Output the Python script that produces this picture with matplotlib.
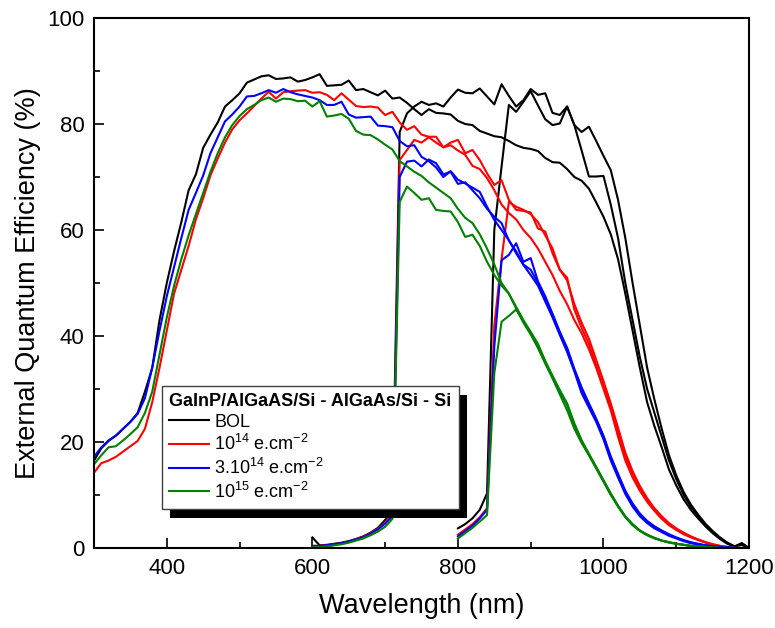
from __future__ import annotations

import matplotlib

matplotlib.use("Agg")
import matplotlib.pyplot as plt
from matplotlib import font_manager
from matplotlib.patches import Rectangle


OUT = "out.png"

# wavelength grids (nm): full-spectrum Si cell, Si under AlGaAs, Si under GaInP/AlGaAs
WL_FULL = [
    300, 310, 320, 330, 340, 350, 360, 370, 380, 390,
    400, 410, 420, 430, 440, 450, 460, 470, 480, 490,
    500, 510, 520, 530, 540, 550, 560, 570, 580, 590,
    600, 610, 620, 630, 640, 650, 660, 670, 680, 690,
    700, 710, 720, 730, 740, 750, 760, 770, 780, 790,
    800, 810, 820, 830, 840, 850, 860, 870, 880, 890,
    900, 910, 920, 930, 940, 950, 960, 970, 980, 990,
    1000, 1010, 1020, 1030, 1040, 1050, 1060, 1070, 1080, 1090,
    1100, 1110, 1120, 1130, 1140, 1150, 1160, 1170, 1180, 1190,
    1200,
]
WL_MID = [
    600, 610, 620, 630, 640, 650, 660, 670, 680, 690,
    700, 710, 720, 730, 740, 750, 760, 770, 780, 790,
    800, 810, 820, 830, 840, 850, 860, 870, 880, 890,
    900, 910, 920, 930, 940, 950, 960, 970, 980, 990,
    1000, 1010, 1020, 1030, 1040, 1050, 1060, 1070, 1080, 1090,
    1100, 1110, 1120, 1130, 1140, 1150, 1160, 1170, 1180, 1190,
    1200,
]
WL_LOW = [
    800, 810, 820, 830, 840, 850, 860, 870, 880, 890,
    900, 910, 920, 930, 940, 950, 960, 970, 980, 990,
    1000, 1010, 1020, 1030, 1040, 1050, 1060, 1070, 1080, 1090,
    1100, 1110, 1120, 1130, 1140, 1150, 1160, 1170, 1180, 1190,
    1200,
]

# EQE (%) -- BOL
BOL_FULL = [
    16.5, 18.8, 20.2, 21.2, 22.5, 23.8, 25.5, 29.5, 34.0, 43.0,
    50.0, 56.0, 61.5, 67.5, 70.5, 75.5, 78.0, 80.3, 83.3, 84.5,
    85.8, 87.8, 88.4, 89.0, 89.2, 88.5, 88.6, 88.8, 88.0, 88.3,
    88.8, 89.4, 87.2, 87.3, 87.4, 88.2, 86.4, 86.6, 86.0, 85.4,
    86.3, 84.8, 85.0, 84.0, 82.8, 81.7, 82.8, 82.1, 82.0, 81.8,
    80.6, 80.0, 79.8, 78.7, 78.2, 77.7, 77.5, 76.8, 76.0, 75.5,
    75.3, 74.9, 73.6, 72.8, 72.7, 71.5, 70.0, 69.3, 67.8, 65.2,
    62.5, 59.2, 54.5, 48.0, 41.0, 34.0, 27.5, 23.0, 19.0, 14.8,
    11.8, 9.2, 7.2, 5.6, 4.1, 2.8, 1.7, 0.8, 0.2, 0.9,
    0.0,
]
BOL_MID = [
    2.0, 0.5, 0.6, 0.8, 1.0, 1.3, 1.7, 2.2, 2.9, 3.8,
    5.3, 7.0, 78.5, 82.0, 83.3, 84.2, 83.6, 83.9, 83.3, 85.0,
    86.5, 85.9, 85.8, 86.7, 85.2, 83.7, 87.5, 85.3, 83.3, 84.5,
    86.6, 85.5, 85.8, 82.1, 81.7, 83.3, 79.8, 78.5, 79.5, 76.8,
    74.0, 71.3, 65.7, 58.5, 50.0, 42.0, 34.0, 28.0, 22.5, 17.5,
    13.7, 10.6, 8.2, 6.3, 4.6, 3.2, 2.0, 1.0, 0.3, 0.9,
    0.0,
]
BOL_LOW = [
    3.7, 4.5, 5.6, 7.2, 10.3, 60.0, 72.0, 83.6, 82.3, 84.2,
    86.2, 83.5, 80.9, 79.8, 80.1, 83.3, 79.8, 75.0, 70.1, 70.1,
    70.2, 64.8, 58.5, 50.0, 43.0, 36.0, 30.0, 25.5, 21.0, 16.5,
    13.0, 10.0, 7.8, 6.0, 4.4, 3.1, 1.9, 1.0, 0.3, 0.6,
    0.0,
]

# EQE (%) -- 1e14 e/cm2
E14_FULL = [
    14.2, 16.0, 16.5, 17.2, 18.2, 19.2, 20.2, 22.5, 27.5, 34.0,
    41.0, 48.0, 52.5, 57.0, 62.0, 66.0, 70.3, 73.5, 76.5, 79.0,
    80.7, 82.0, 83.4, 84.8, 86.1, 84.8, 86.0, 86.2, 86.3, 86.4,
    85.9, 86.0, 85.5, 84.5, 85.8, 84.6, 83.4, 83.2, 83.3, 83.1,
    81.7, 82.3, 80.3, 78.9, 79.6, 78.0, 77.6, 77.6, 75.6, 76.0,
    75.0, 74.2, 72.1, 71.5, 69.8, 67.5, 64.8, 63.2, 62.0, 60.0,
    58.5, 56.5, 54.0, 51.5, 48.5, 46.0, 43.0, 40.5, 37.5, 34.0,
    30.0, 26.0, 21.0, 16.5, 13.3, 10.8, 8.7, 7.0, 5.5, 4.3,
    3.4, 2.6, 2.0, 1.5, 1.0, 0.6, 0.3, 0.1, 0.0, 0.0,
    0.0,
]
E14_MID = [
    0.4, 0.4, 0.5, 0.7, 0.9, 1.2, 1.6, 2.1, 2.8, 3.6,
    4.8, 6.2, 73.2, 75.1, 77.0, 76.5, 77.5, 76.5, 75.6, 76.5,
    77.0, 74.5, 75.1, 73.2, 70.7, 68.5, 69.4, 65.7, 63.8, 63.6,
    63.3, 60.3, 59.7, 55.6, 52.5, 51.0, 45.0, 41.5, 38.5, 34.5,
    30.5, 26.5, 22.0, 17.3, 14.0, 11.3, 9.1, 7.3, 5.8, 4.5,
    3.6, 2.8, 2.1, 1.6, 1.1, 0.7, 0.4, 0.2, 0.0, 0.0,
    0.0,
]
E14_LOW = [
    2.5, 3.5, 4.5, 5.8, 7.5, 42.0, 54.5, 65.3, 64.4, 63.8,
    63.0, 61.5, 59.0, 56.5, 52.5, 50.5, 46.0, 42.5, 39.5, 35.5,
    31.5, 27.3, 22.7, 18.0, 14.5, 11.7, 9.4, 7.5, 6.0, 4.7,
    3.7, 2.9, 2.2, 1.6, 1.1, 0.7, 0.4, 0.2, 0.0, 0.0,
    0.0,
]

# EQE (%) -- 3e14 e/cm2
E3_14_FULL = [
    17.2, 19.0, 20.3, 21.2, 22.5, 23.8, 25.3, 28.3, 34.0, 41.0,
    47.5, 53.0, 58.5, 63.8, 67.0, 70.3, 74.5, 77.5, 80.5, 81.8,
    83.3, 85.2, 85.3, 85.8, 86.4, 85.9, 86.6, 86.0, 85.6, 85.3,
    85.0, 84.5, 83.6, 83.6, 84.2, 81.8, 81.2, 81.3, 81.4, 79.7,
    79.6, 79.4, 76.8, 75.8, 76.0, 73.8, 73.0, 71.8, 70.0, 71.1,
    69.5, 68.8, 68.0, 67.2, 64.4, 61.9, 60.0, 58.1, 55.6, 53.4,
    51.5, 49.5, 46.5, 43.5, 40.2, 37.0, 33.3, 29.2, 26.5, 23.8,
    20.5, 16.5, 13.3, 10.2, 7.8, 6.0, 4.7, 3.7, 3.0, 2.3,
    1.8, 1.3, 0.9, 0.7, 0.5, 0.3, 0.2, 0.1, 0.0, 0.0,
    0.0,
]
E3_14_MID = [
    0.4, 0.4, 0.5, 0.7, 0.9, 1.2, 1.6, 2.0, 2.7, 3.5,
    4.6, 6.0, 70.0, 72.9, 73.1, 72.0, 73.3, 72.6, 70.5, 71.0,
    68.7, 69.0, 67.5, 66.0, 64.0, 62.5, 61.3, 58.0, 56.0, 53.5,
    52.5, 50.0, 47.0, 44.0, 40.5, 37.5, 33.5, 30.0, 27.0, 24.2,
    21.0, 17.0, 13.8, 10.6, 8.2, 6.3, 5.0, 4.0, 3.2, 2.5,
    1.9, 1.4, 1.0, 0.7, 0.5, 0.3, 0.2, 0.1, 0.0, 0.0,
    0.0,
]
E3_14_LOW = [
    2.2, 3.2, 4.2, 5.6, 7.2, 38.0, 54.3, 55.3, 57.5, 54.0,
    54.7, 50.3, 47.5, 44.2, 40.8, 37.8, 33.8, 30.3, 27.3, 24.4,
    21.2, 17.3, 14.0, 10.8, 8.4, 6.5, 5.1, 4.1, 3.3, 2.6,
    2.0, 1.5, 1.1, 0.8, 0.5, 0.3, 0.2, 0.1, 0.0, 0.0,
    0.0,
]

# EQE (%) -- 1e15 e/cm2
E15_FULL = [
    15.8, 17.5, 19.0, 19.2, 20.3, 21.5, 22.8, 25.5, 29.5, 36.5,
    43.5, 49.5, 54.5, 59.0, 63.0, 67.0, 71.0, 74.5, 77.5, 79.8,
    81.5, 82.8, 83.6, 84.5, 85.0, 84.2, 84.8, 84.7, 84.3, 84.4,
    83.3, 84.3, 81.4, 81.6, 81.9, 81.0, 78.7, 78.0, 77.9, 77.1,
    76.1, 75.2, 73.0, 72.0, 71.0, 70.2, 69.0, 68.0, 67.0, 66.0,
    64.0, 62.3, 61.3, 59.2, 56.5, 53.5, 50.0, 48.0, 45.2, 42.5,
    40.3, 37.8, 34.8, 32.0, 29.0, 26.0, 22.5, 19.8, 17.5, 15.0,
    12.5, 10.0, 7.8, 5.8, 4.3, 3.2, 2.4, 1.8, 1.4, 1.0,
    0.8, 0.6, 0.4, 0.3, 0.2, 0.1, 0.0, 0.0, 0.0, 0.0,
    0.0,
]
E15_MID = [
    0.2, 0.2, 0.3, 0.5, 0.7, 1.0, 1.4, 1.8, 2.4, 3.1,
    4.0, 5.5, 65.3, 68.2, 67.0, 65.7, 66.0, 63.8, 63.6, 63.5,
    61.5, 58.7, 59.1, 57.0, 54.0, 51.5, 49.5, 48.0, 45.5, 43.0,
    40.8, 38.5, 35.3, 32.5, 29.8, 27.3, 23.5, 20.3, 17.8, 15.3,
    12.8, 10.3, 8.0, 6.0, 4.5, 3.3, 2.5, 1.9, 1.4, 1.1,
    0.8, 0.6, 0.4, 0.3, 0.2, 0.1, 0.0, 0.0, 0.0, 0.0,
    0.0,
]
E15_LOW = [
    1.8, 2.8, 3.8, 5.0, 6.2, 33.0, 42.7, 43.8, 45.0, 42.8,
    40.5, 37.8, 35.0, 32.3, 29.5, 27.0, 23.3, 20.2, 17.6, 15.2,
    12.7, 10.2, 7.9, 5.9, 4.4, 3.3, 2.5, 1.9, 1.4, 1.1,
    0.8, 0.6, 0.4, 0.3, 0.2, 0.1, 0.0, 0.0, 0.0, 0.0,
    0.0,
]

LEGEND_TITLE = "GaInP/AlGaAS/Si - AlGaAs/Si - Si"
SERIES = [
    ("BOL", "#000000", BOL_FULL, BOL_MID, BOL_LOW),
    (r"10$^{14}$ e.cm$^{-2}$", "#ff0000", E14_FULL, E14_MID, E14_LOW),
    (r"3.10$^{14}$ e.cm$^{-2}$", "#0000ff", E3_14_FULL, E3_14_MID, E3_14_LOW),
    (r"10$^{15}$ e.cm$^{-2}$", "#008000", E15_FULL, E15_MID, E15_LOW),
]


def pick_font() -> str:
    names = {f.name for f in font_manager.fontManager.ttflist}
    for name in ["Liberation Sans", "Arial", "DejaVu Sans"]:
        if name in names:
            return name
    return "DejaVu Sans"


def main() -> None:
    font = pick_font()
    plt.rcParams["font.family"] = [font, "DejaVu Sans"]
    plt.rcParams["mathtext.fontset"] = "custom"
    plt.rcParams["mathtext.rm"] = font
    plt.rcParams["mathtext.default"] = "regular"

    fig = plt.figure(figsize=(7.75, 6.28), dpi=100)
    ax = fig.add_axes([0.1213, 0.1274, 0.8452, 0.8439])

    handles = []
    for label, color, full, mid, low in SERIES:
        assert len(full) == len(WL_FULL) and len(mid) == len(WL_MID) and len(low) == len(WL_LOW)
        (h,) = ax.plot(WL_FULL, full, color=color, lw=1.5, label=label)
        ax.plot(WL_MID, mid, color=color, lw=1.5)
        ax.plot(WL_LOW, low, color=color, lw=1.5)
        handles.append(h)

    ax.set_xlim(300, 1200)
    ax.set_ylim(0, 100)
    ax.set_xticks([400, 600, 800, 1000, 1200])
    ax.set_xticks([500, 700, 900, 1100], minor=True)
    ax.set_yticks([0, 20, 40, 60, 80, 100])
    ax.set_yticks([10, 30, 50, 70, 90], minor=True)
    ax.tick_params(which="major", direction="in", length=7, width=1.2, labelsize=16, pad=7)
    ax.tick_params(which="minor", direction="in", length=4, width=1.2)
    for spine in ax.spines.values():
        spine.set_linewidth(1.5)

    ax.set_xlabel("Wavelength (nm)", fontsize=19.5, labelpad=10)
    ax.set_ylabel("External Quantum Efficiency (%)", fontsize=19.5, labelpad=4)

    leg = ax.legend(
        handles=handles,
        title=LEGEND_TITLE,
        title_fontproperties={"weight": "bold", "size": 13},
        alignment="left",
        loc="upper left",
        bbox_to_anchor=(0.104, 0.306),
        fontsize=13,
        frameon=True,
        fancybox=False,
        framealpha=1,
        edgecolor="#404040",
        handlelength=2.2,
        handletextpad=0.3,
        labelspacing=0.2,
        borderpad=0.4,
        borderaxespad=0,
    )
    leg.get_frame().set_linewidth(1.0)
    leg.set_zorder(6)

    # solid black drop shadow, offset down-right like the original
    fig.canvas.draw()
    bb = leg.get_window_extent().transformed(ax.transAxes.inverted())
    dx = 8 / (ax.bbox.width)
    dy = 9 / (ax.bbox.height)
    ax.add_patch(
        Rectangle(
            (bb.x0 + dx, bb.y0 - dy), bb.width, bb.height,
            transform=ax.transAxes, facecolor="black", edgecolor="none",
            zorder=5.5, clip_on=False,
        )
    )

    fig.savefig(OUT, dpi=100)
    plt.close(fig)


if __name__ == "__main__":
    main()
